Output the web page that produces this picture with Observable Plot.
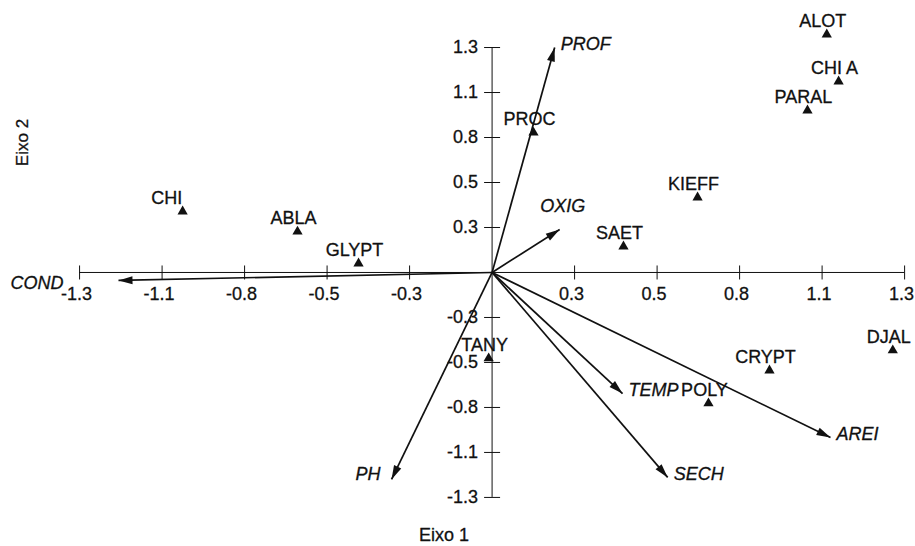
<!DOCTYPE html>
<html>
<head>
<meta charset="utf-8">
<script src="https://cdn.jsdelivr.net/npm/d3@7"></script>
<script src="https://cdn.jsdelivr.net/npm/@observablehq/plot@0.6"></script>
<style>
  html, body { margin: 0; padding: 0; background: #fff; }
  #chart { width: 915px; height: 546px; }
</style>
</head>
<body>
<div id="chart"></div>
<script>
// ---- Data ----
const speciesNames = ["ALOT", "CHI A", "PARAL", "KIEFF", "SAET", "PROC", "CHI", "ABLA", "GLYPT", "TANY", "CRYPT", "DJAL", "POLY"];
const speciesAxis1 = [1.075, 1.113, 1.013, 0.660, 0.422, 0.133, -0.994, -0.625, -0.429, -0.011, 0.891, 1.287, 0.695];
const speciesAxis2 = [1.402, 1.125, 0.954, 0.442, 0.153, 0.824, 0.359, 0.241, 0.053, -0.506, -0.577, -0.459, -0.771];

const envNames = ["PROF", "OXIG", "COND", "PH", "TEMP", "SECH", "AREI"];
const envAxis1 = [0.201, 0.217, -1.200, -0.323, 0.419, 0.564, 1.087];
const envAxis2 = [1.325, 0.253, -0.047, -1.219, -0.713, -1.207, -0.972];

const tickValues = [-1.325, -1.06, -0.795, -0.53, -0.265, 0.265, 0.53, 0.795, 1.06, 1.325];
const tickLabels = ["-1.3", "-1.1", "-0.8", "-0.5", "-0.3", "0.3", "0.5", "0.8", "1.1", "1.3"];

const axisTitleX = "Eixo 1";
const axisTitleY = "Eixo 2";

// ---- Tables built from the arrays ----
const species = speciesNames.map((name, i) => ({name, x: speciesAxis1[i], y: speciesAxis2[i]}));
const env = envNames.map((name, i) => ({name, x: envAxis1[i], y: envAxis2[i]}));
const ticks = tickValues.map((v, i) => ({v, label: tickLabels[i]}));
const axisEnd = tickValues[tickValues.length - 1];

// ---- Styling helpers ----
const FONT = "'Liberation Sans', Arial, Helvetica, sans-serif";
const INK = "#111";
const FS = 18;
const ink = {fill: INK, stroke: INK, strokeWidth: 0.3, fontSize: FS};

const vTick = {draw(ctx, size) { const r = Math.sqrt(size / Math.PI); ctx.moveTo(0, -r); ctx.lineTo(0, r); }};
const hTick = {draw(ctx, size) { const r = Math.sqrt(size / Math.PI); ctx.moveTo(-r, 0); ctx.lineTo(r, 0); }};

function filledArrow(color, context) {
  const doc = (context && context.document) || document;
  const ns = "http://www.w3.org/2000/svg";
  const m = doc.createElementNS(ns, "marker");
  m.setAttribute("viewBox", "-15 -5 15 10");
  m.setAttribute("markerWidth", "15");
  m.setAttribute("markerHeight", "10");
  m.setAttribute("markerUnits", "userSpaceOnUse");
  m.setAttribute("refX", "0");
  m.setAttribute("refY", "0");
  m.setAttribute("orient", "auto");
  const p = doc.createElementNS(ns, "path");
  p.setAttribute("d", "M-14,-4L0,0L-14,4Z");
  p.setAttribute("fill", color);
  p.setAttribute("stroke", "none");
  m.appendChild(p);
  return m;
}

function build(marker) {
  const only = (names) => env.filter(d => names.includes(d.name));
  return Plot.plot({
    width: 915,
    height: 546,
    margin: 0,
    style: {fontFamily: FONT, fontSize: FS + "px", background: "#fff", color: INK},
    x: {domain: [-1.579, 1.360], axis: null},
    y: {domain: [-1.614, 1.602], axis: null},
    marks: [
      // axes through the origin
      Plot.ruleY([0], {x1: -axisEnd, x2: axisEnd, stroke: INK, strokeWidth: 1}),
      Plot.ruleX([0], {y1: -axisEnd, y2: axisEnd, stroke: INK, strokeWidth: 1}),
      Plot.dot(ticks, {x: "v", y: 0, symbol: vTick, r: 7, stroke: INK, fill: "none", strokeWidth: 1}),
      Plot.dot(ticks, {x: 0, y: "v", symbol: hTick, r: 8, stroke: INK, fill: "none", strokeWidth: 1}),
      Plot.text(ticks, {x: "v", y: 0, text: "label", dy: 22, dx: -3, ...ink}),
      Plot.text(ticks, {x: 0, y: "v", text: "label", dx: -14, textAnchor: "end", ...ink}),

      // environmental vectors
      Plot.link(env, {x1: 0, y1: 0, x2: "x", y2: "y", stroke: INK, strokeWidth: 1.7, markerEnd: marker}),
      Plot.text(only(["PROF", "TEMP", "SECH", "AREI"]), {x: "x", y: "y", text: "name", textAnchor: "start", dx: 6, dy: -3, fontStyle: "italic", ...ink}),
      Plot.text(only(["PH"]), {x: "x", y: "y", text: "name", textAnchor: "end", dx: -11, dy: -5, fontStyle: "italic", ...ink}),
      Plot.text(only(["OXIG"]), {x: "x", y: "y", text: "name", dx: 3, dy: -23, fontStyle: "italic", ...ink}),
      Plot.text(only(["COND"]), {x: "x", y: "y", text: "name", textAnchor: "end", dx: -55, dy: 3, fontStyle: "italic", ...ink}),

      // species
      Plot.dot(species, {x: "x", y: "y", symbol: "triangle", r: 3.8, fill: INK, stroke: "none"}),
      Plot.text(species.filter(d => d.name !== "CHI"), {x: "x", y: "y", text: "name", dx: -4, dy: -13, ...ink}),
      Plot.text(species.filter(d => d.name === "CHI"), {x: "x", y: "y", text: "name", dx: -16, dy: -13, ...ink}),

      // axis titles
      Plot.text([axisTitleX], {frameAnchor: "bottom", lineAnchor: "middle", textAnchor: "middle", text: d => d, dx: -14, dy: -11, ...ink}),
      Plot.text([axisTitleY], {frameAnchor: "top-left", lineAnchor: "middle", textAnchor: "middle", text: d => d, dx: 22, dy: 142, rotate: -90, ...ink, fontSize: 17})
    ]
  });
}

let chart;
try {
  chart = build(filledArrow);
} catch (e) {
  chart = build("arrow");
}
document.getElementById("chart").appendChild(chart);
</script>
</body>
</html>
